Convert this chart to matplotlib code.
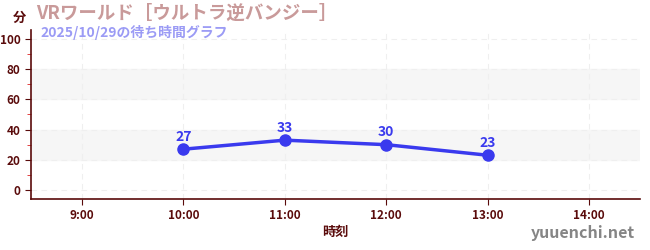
import matplotlib
matplotlib.use('Agg')
from matplotlib import pyplot as plt
from matplotlib.ticker import MultipleLocator

plt.rcParams['font.family'] = ['Noto Sans CJK JP', 'DejaVu Sans']

# 時刻 (時) と待ち時間 (分)
hours = [10, 11, 12, 13]
waits = [27, 33, 30, 23]
tick_hours = [9, 10, 11, 12, 13, 14]
tick_labels = ['9:00', '10:00', '11:00', '12:00', '13:00', '14:00']
y_ticks = [0, 20, 40, 60, 80, 100]
bands = [(20, 40), (60, 80)]

axis_color = '#5a0b0b'
line_color = '#3a3aee'

fig = plt.figure(figsize=(6.5, 2.5), dpi=100)
ax = fig.add_axes([0.0477, 0.204, 0.937, 0.676])

for lo, hi in bands:
    ax.axhspan(lo, hi, color='#f6f6f6', zorder=0)

ax.plot(hours, waits, color=line_color, lw=2.5, marker='o', ms=8, zorder=3)
for h, w in zip(hours, waits):
    ax.annotate(str(w), (h, w), xytext=(0, 4), textcoords='offset points',
                ha='center', va='bottom', color=line_color, fontsize=10,
                fontweight='bold')

ax.set_xlim(8.5, 14.5)
ax.set_ylim(-6, 106)
ax.set_xticks(tick_hours)
ax.set_xticklabels(tick_labels)
ax.set_yticks(y_ticks)
ax.yaxis.set_minor_locator(MultipleLocator(10))
ax.tick_params(axis='y', which='minor', length=3, color='#dd2222')
ax.tick_params(axis='both', which='major', length=4, color=axis_color,
               labelcolor=axis_color, labelsize=8.5)
for lbl in ax.get_xticklabels() + ax.get_yticklabels():
    lbl.set_fontweight('bold')

ax.grid(True, which='major', color='#efefef', ls=(0, (5, 4)), lw=0.8)
ax.set_axisbelow(True)
for s in ['top', 'right']:
    ax.spines[s].set_visible(False)
for s in ['left', 'bottom']:
    ax.spines[s].set_color(axis_color)
    ax.spines[s].set_linewidth(1.2)

ax.set_xlabel('時刻', color=axis_color, fontsize=9.5, fontweight='bold',
              labelpad=2)

fig.text(0.02, 0.93, '分', color=axis_color, fontsize=9.5, fontweight='bold',
         va='center', ha='left')
fig.text(0.055, 0.945, 'VRワールド［ウルトラ逆バンジー］', color='#c99a9a',
         fontsize=13.3, fontweight='bold', va='center', ha='left')
fig.text(0.062, 0.872, '2025/10/29の待ち時間グラフ', color='#9b9bf5',
         fontsize=10, fontweight='bold', va='center', ha='left')
fig.text(0.977, 0.068, 'yuuenchi.net', color='#858585', fontsize=11.5,
         fontweight='bold', va='center', ha='right')

fig.savefig('out.png', dpi=100)
